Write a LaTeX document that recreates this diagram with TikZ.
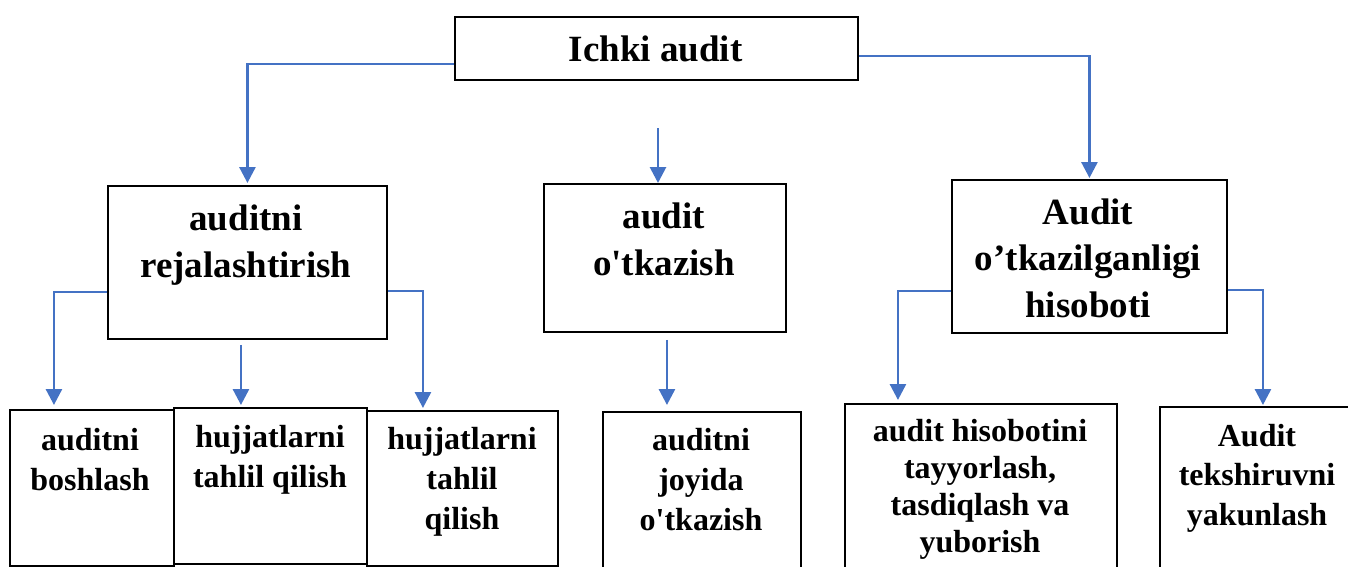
\documentclass[tikz,border=0pt]{standalone}
\usepackage{fontspec}
\setmainfont{Liberation Serif}
\usetikzlibrary{arrows.meta}
\definecolor{cblue}{HTML}{4472C4}
\begin{document}
\begin{tikzpicture}[x=1pt,y=-1pt,
 box/.style={draw=black,line width=1.9pt,inner sep=0pt,anchor=north west},
 arr/.style={draw=cblue,line width=2.8pt,-{Triangle[width=16pt,length=16pt]}},
 big/.style={font=\fontsize{37}{47}\selectfont\bfseries,align=center,anchor=base,inner sep=0pt},
 small/.style={font=\fontsize{32}{39}\selectfont\bfseries,align=center,anchor=base,inner sep=0pt}]
\clip (0,0) rectangle (1348,567);
% boxes
\node[box,minimum width=403pt,minimum height=63pt] (top) at (454,16) {};
\node[box,minimum width=279pt,minimum height=153pt] (lm) at (107,185) {};
\node[box,minimum width=242pt,minimum height=148pt] (cm) at (543,183) {};
\node[box,minimum width=275pt,minimum height=153pt] (rm) at (951,179) {};
\node[box,minimum width=164pt,minimum height=156pt] (b1) at (9,409) {};
\node[box,minimum width=193pt,minimum height=156pt] (b2) at (173,407) {};
\node[box,minimum width=191pt,minimum height=155pt] (b3) at (366,410) {};
\node[box,minimum width=198pt,minimum height=165pt] (b4) at (602,411) {};
\node[box,minimum width=272pt,minimum height=170pt] (b5) at (844,403) {};
\node[box,minimum width=197pt,minimum height=170pt] (b6) at (1159,406) {};
% texts (anchor = baseline of last line)
\node[big] (ttop) at (655.5,62) {Ichki audit};
\node[big] (tlm) at (246,277) {auditni\\rejalashtirish};
\node[big] (tcm) at (664,275) {audit\\o\textquotesingle tkazish};
\node[big,font=\fontsize{37}{46.5}\selectfont\bfseries] (trm) at (1088,317) {Audit\\o’tkazilganligi\\hisoboti};
\node[small,font=\fontsize{32}{40}\selectfont\bfseries] (tb1) at (90,490) {auditni\\boshlash};
\node[small,font=\fontsize{32}{40}\selectfont\bfseries] (tb2) at (270,487) {hujjatlarni\\tahlil qilish};
\node[small,font=\fontsize{32}{40}\selectfont\bfseries] (tb3) at (462,529) {hujjatlarni\\tahlil\\qilish};
\node[small,font=\fontsize{32}{40}\selectfont\bfseries] (tb4) at (701,530) {auditni\\joyida\\o\textquotesingle tkazish};
\node[small,font=\fontsize{32}{36.7}\selectfont\bfseries] (tb5) at (980,552) {audit hisobotini\\tayyorlash,\\tasdiqlash va\\yuborish};
\node[small,font=\fontsize{32}{39.5}\selectfont\bfseries] (tb6) at (1257,525) {Audit\\tekshiruvni\\yakunlash};
% connectors
\draw[arr] ([yshift=-15.5pt]top.west) -| ([yshift=2pt]lm.north);
\draw[arr] ([yshift=-7.5pt]top.east) -| ([yshift=1pt]rm.north);
\coordinate (cs) at (658,128);
\draw[arr] (cs) -- (cs |- cm.north);
\draw[arr] ([yshift=-29.5pt]lm.west) -| ([xshift=-38pt,yshift=4pt]b1.north);
\draw[arr] ([xshift=-6.5pt,yshift=-5pt]lm.south) coordinate (s2) -- ([yshift=2pt]s2 |- b2.north);
\draw[arr] ([yshift=-28.5pt]lm.east) -| ([xshift=-39.5pt,yshift=2pt]b3.north);
\draw[arr] ([xshift=2pt,yshift=-7pt]cm.south) coordinate (s4) -- ([yshift=6pt]s4 |- b4.north);
\draw[arr] ([yshift=-34.5pt]rm.west) -| ([xshift=-83pt,yshift=3pt]b5.north);
\draw[arr] ([yshift=-33.5pt]rm.east) -| ([xshift=4.5pt,yshift=1pt]b6.north);
\end{tikzpicture}
\end{document}
